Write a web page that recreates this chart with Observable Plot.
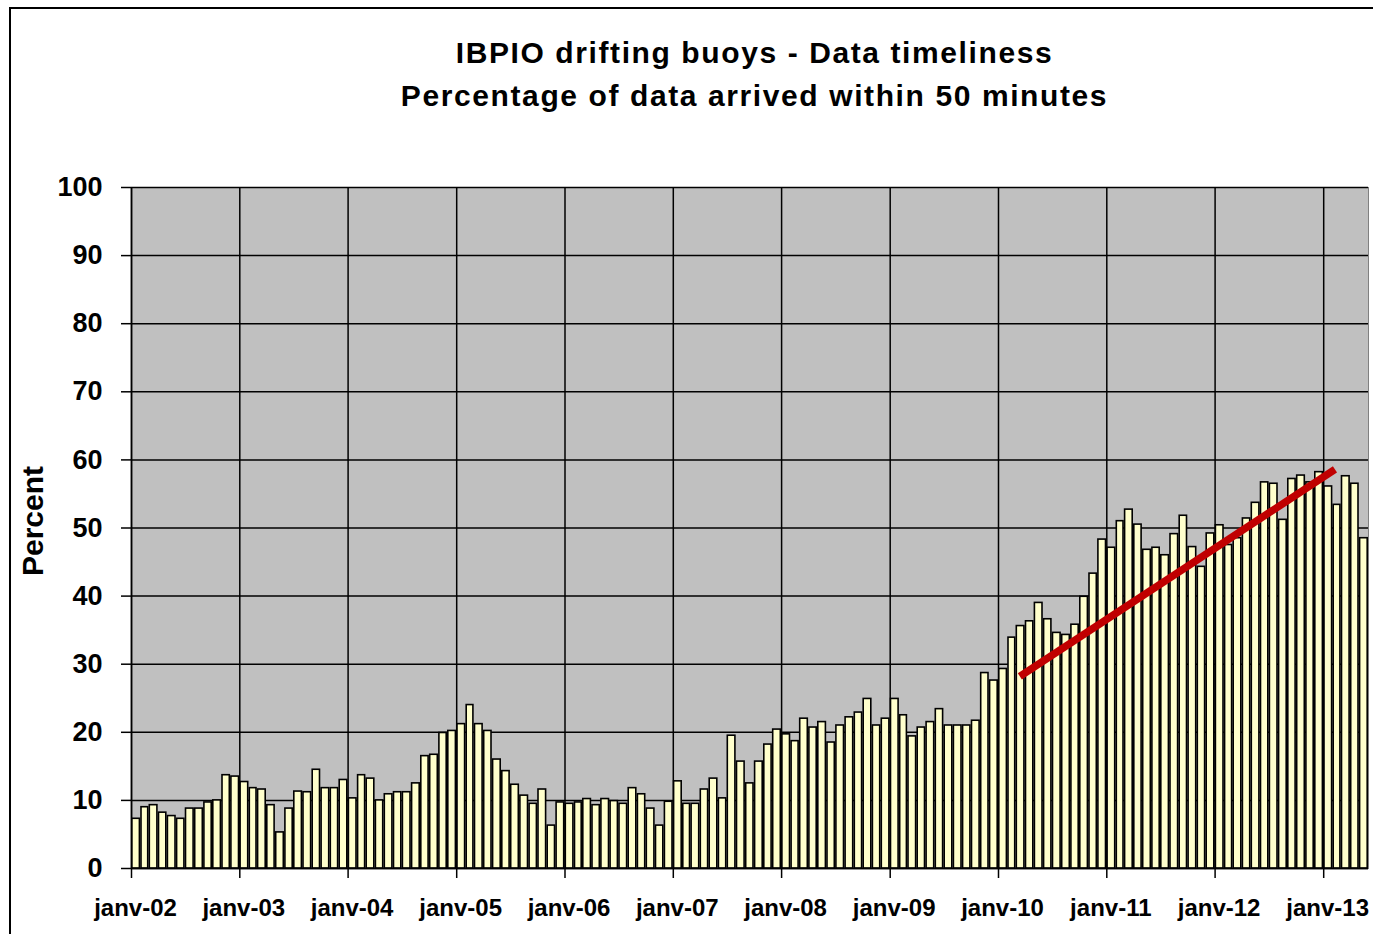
<!DOCTYPE html>
<html>
<head>
<meta charset="utf-8">
<script src="https://cdn.jsdelivr.net/npm/d3@7"></script>
<script src="https://cdn.jsdelivr.net/npm/@observablehq/plot@0.6"></script>
<style>
  html, body { margin: 0; padding: 0; background: #fff; }
  body { width: 1373px; height: 934px; overflow: hidden; position: relative;
         font-family: "Liberation Sans", Arial, sans-serif; }
  #border { position: absolute; left: 9px; top: 7px; width: 1400px; height: 1000px;
            border: 2px solid #000; pointer-events: none; }
  #title { box-sizing: border-box; width: 1373px; height: 150px; padding-top: 31px; padding-left: 136px;
           text-align: center; font-weight: bold; font-size: 30px; line-height: 43px;
           letter-spacing: 1.6px; color: #000; }
  #chart svg { display: block; }
</style>
</head>
<body>
<div id="title">IBPIO drifting buoys - Data timeliness<br>Percentage of data arrived within 50 minutes</div>
<div id="chart"></div>
<div id="border"></div>
<script>
// Monthly percentage of data arrived within 50 minutes, Jan 2002 – May 2013
const v2002 = [7.3, 9.0, 9.3, 8.2, 7.7, 7.3, 8.8, 8.8, 9.7, 10.0, 13.7, 13.5];
const v2003 = [12.7, 11.8, 11.6, 9.3, 5.3, 8.8, 11.3, 11.2, 14.5, 11.8, 11.8, 13.0];
const v2004 = [10.3, 13.7, 13.2, 10.0, 10.9, 11.2, 11.2, 12.5, 16.5, 16.7, 19.9, 20.2];
const v2005 = [21.2, 24.0, 21.2, 20.2, 16.0, 14.3, 12.3, 10.7, 9.5, 11.6, 6.3, 9.7];
const v2006 = [9.5, 9.7, 10.2, 9.3, 10.2, 9.9, 9.5, 11.8, 10.9, 8.8, 6.3, 9.8];
const v2007 = [12.8, 9.5, 9.5, 11.6, 13.2, 10.3, 19.5, 15.7, 12.5, 15.7, 18.2, 20.4];
const v2008 = [19.7, 18.7, 22.0, 20.7, 21.5, 18.5, 21.0, 22.2, 22.9, 24.9, 21.0, 22.0];
const v2009 = [24.9, 22.5, 19.4, 20.7, 21.5, 23.4, 21.0, 21.0, 21.0, 21.7, 28.7, 27.6];
const v2010 = [29.3, 33.9, 35.6, 36.3, 39.0, 36.6, 34.6, 34.3, 35.8, 39.9, 43.3, 48.3];
const v2011 = [47.1, 51.0, 52.7, 50.5, 46.8, 47.1, 46.0, 49.1, 51.8, 47.2, 44.3, 49.2];
const v2012 = [50.4, 47.5, 48.5, 51.4, 53.7, 56.7, 56.5, 51.2, 57.2, 57.7, 56.7, 58.2];
const v2013 = [56.1, 53.4, 57.6, 56.5, 48.5];

const years = [2002, 2003, 2004, 2005, 2006, 2007, 2008, 2009, 2010, 2011, 2012, 2013];
const yearValues = [v2002, v2003, v2004, v2005, v2006, v2007, v2008, v2009, v2010, v2011, v2012, v2013];

// Hand-drawn trend line (start and end)
const trendDates = ["2010-03-14", "2013-02-08"];
const trendValues = [28.2, 58.6];

const yTicks = [0, 10, 20, 30, 40, 50, 60, 70, 80, 90, 100];
const xTickYears = years;

const rows = [];
years.forEach((yr, i) => {
  yearValues[i].forEach((v, m) => {
    const date = new Date(Date.UTC(yr, m, 1));
    rows.push({date, next: new Date(Date.UTC(yr, m + 1, 1)), value: v});
  });
});
const trend = trendDates.map((d, i) => ({date: new Date(d + "T00:00:00Z"), value: trendValues[i]}));
const xTicks = xTickYears.map(y => new Date(Date.UTC(y, 0, 1)));
const xDomain = [rows[0].date, rows[rows.length - 1].next];
const fmt = d => "janv-" + String(d.getUTCFullYear()).slice(2);

const chart = Plot.plot({
  width: 1373,
  height: 784,
  marginTop: 37,
  marginBottom: 66,
  marginLeft: 131,
  marginRight: 5,
  style: {background: "transparent", fontFamily: "'Liberation Sans', Arial, sans-serif", color: "#000", overflow: "visible"},
  x: {type: "utc", domain: xDomain},
  y: {domain: [0, 100]},
  marks: [
    Plot.frame({fill: "#C0C0C0", stroke: "#808080", strokeWidth: 1}),
    Plot.gridY(yTicks, {stroke: "#000", strokeOpacity: 1, strokeWidth: 1.5}),
    Plot.gridX(xTicks, {stroke: "#000", strokeOpacity: 1, strokeWidth: 1.5}),
    Plot.rectY(rows, {x1: "date", x2: "next", y: "value", fill: "#FFFFCC", stroke: "#000",
      strokeWidth: 1.6, insetLeft: 0.8, insetRight: 0.8}),
    Plot.line(trend, {x: "date", y: "value", stroke: "#C00000", strokeWidth: 7.5, strokeLinecap: "butt"}),
    Plot.ruleY([0], {stroke: "#000", strokeWidth: 1.5}),
    Plot.ruleX([xDomain[0]], {stroke: "#000", strokeWidth: 1.5}),
    Plot.axisY({ticks: yTicks, tickSize: 10, tickPadding: 19, fontSize: 27, fontWeight: "bold",
      label: null, strokeWidth: 1.5}),
    Plot.axisX({ticks: xTicks, tickSize: 10, tickFormat: () => "", label: null, strokeWidth: 1.5}),
    Plot.axisX({ticks: xTicks, tickSize: 0, tickPadding: 30, dx: 4, tickFormat: fmt, fontSize: 24,
      fontWeight: "bold", label: null}),
    Plot.text(["Percent"], {text: d => d, frameAnchor: "left", rotate: -90, dx: -98, dy: -7,
      fontSize: 30, fontWeight: "bold", textAnchor: "middle", lineAnchor: "middle", fill: "#000"})
  ]
});
document.getElementById("chart").appendChild(chart);
</script>
</body>
</html>
